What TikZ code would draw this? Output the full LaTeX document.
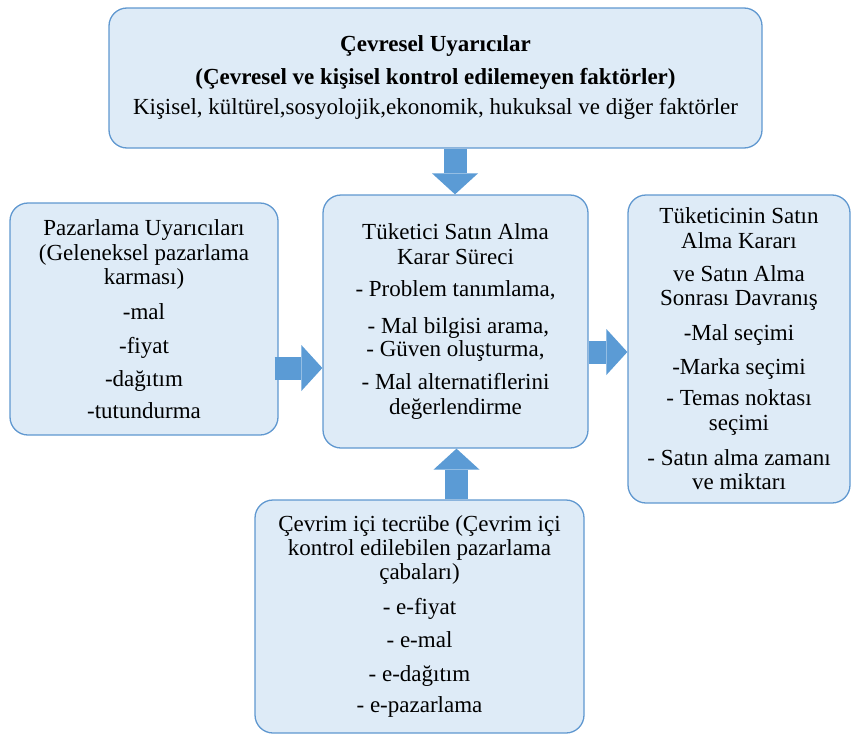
\documentclass[tikz,border=0pt]{standalone}
\usepackage{fontspec}
\setmainfont{LiberationSerif}[Extension=.ttf, UprightFont=*-Regular, BoldFont=*-Bold, ItalicFont=*-Italic, BoldItalicFont=*-BoldItalic]
\usetikzlibrary{arrows.meta}

\definecolor{boxfill}{RGB}{222,235,247}
\definecolor{boxline}{RGB}{96,152,208}
\definecolor{arrowblue}{RGB}{91,155,213}

\tikzset{
  panel/.style={draw=boxline, line width=1.3pt, fill=boxfill,
    rounded corners=18pt, inner sep=0pt, align=center,
    font=\fontsize{23}{24.5}\selectfont},
  blockarrow/.style={draw=arrowblue, line width=23pt,
    -{Triangle[width=46pt,length=21pt,line width=0pt]}},
}

\begin{document}
\begin{tikzpicture}[x=1pt,y=-1pt]
\useasboundingbox (0,0) rectangle (853,736);

% environment stimuli
\node[panel, minimum width=653pt, minimum height=140pt] (top) at (435.5,78)
  {\textbf{Çevresel Uyarıcılar}\\[8.5pt]
   \textbf{(Çevresel ve kişisel kontrol edilemeyen faktörler)}\\[5.5pt]
   Kişisel, kültürel,sosyolojik,ekonomik, hukuksal ve diğer faktörler};

% marketing stimuli
\node[panel, minimum width=268pt, minimum height=232pt] (left) at (144,319)
  {Pazarlama Uyarıcıları\\
   (Geleneksel pazarlama\\
   karması)\\[10pt]
   -mal\\[9.5pt]
   -fiyat\\[8.5pt]
   -dağıtım\\[7.5pt]
   -tutundurma};

% decision process
\node[panel, minimum width=265pt, minimum height=253pt] (center) at (455.5,321.5)
  {Tüketici Satın Alma\\
   Karar Süreci\\[7.5pt]
   - Problem tanımlama,\\[12.5pt]
   \ - Mal bilgisi arama,\\[-1pt]
   - Güven oluşturma,\\[8.5pt]
   - Mal alternatiflerini\\
   değerlendirme};

% purchase decision and after
\node[panel, minimum width=222pt, minimum height=308pt] (right) at (739,349)
  {Tüketicinin Satın\\
   Alma Kararı\\[8.5pt]
   ve Satın Alma\\
   Sonrası Davranış\\[10.5pt]
   -Mal seçimi\\[9.5pt]
   -Marka seçimi\\[6.5pt]
   - Temas noktası\\
   seçimi\\[10.5pt]
   - Satın alma zamanı\\
   ve miktarı};

% online experience
\node[panel, minimum width=329pt, minimum height=233pt] (bottom) at (419.5,616.5)
  {Çevrim içi tecrübe (Çevrim içi\\[-1pt]
   kontrol edilebilen pazarlama\\
   çabaları)\\[10.5pt]
   - e-fiyat\\[8.5pt]
   - e-mal\\[9.5pt]
   - e-dağıtım\\[6.5pt]
   - e-pazarlama};

% arrow alignment helpers
\coordinate (yL) at (0,368);
\coordinate (yR) at (0,352);
\coordinate (xT) at (455,0);
\coordinate (xB) at (456.5,0);

\draw[blockarrow] (top.south -| xT) -- (center.north -| xT);
\draw[blockarrow] ([xshift=-4pt]left.east |- yL) -- (center.west |- yL);
\draw[blockarrow] (center.east |- yR) -- (right.west |- yR);
\draw[blockarrow] (bottom.north -| xB) -- (center.south -| xB);
\end{tikzpicture}
\end{document}
